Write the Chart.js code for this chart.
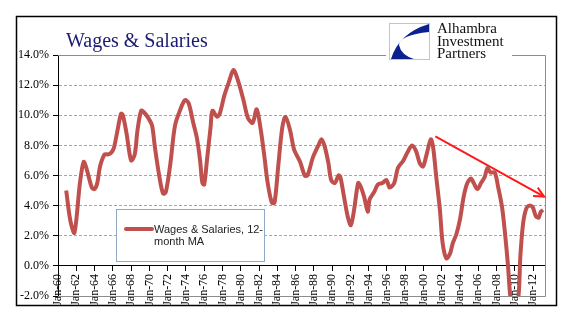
<!DOCTYPE html>
<html>
<head>
<meta charset="utf-8">
<script src="https://cdn.jsdelivr.net/npm/chart.js@4.4.0/dist/chart.umd.min.js"></script>
<style>
  html, body { margin: 0; padding: 0; background: #fff; }
  canvas { display: block; }
</style>
</head>
<body>
<canvas id="wagesChart" width="565" height="324"></canvas>
<script>
// Wages & Salaries, 12-month moving average (% y/y)
const years = [
  1960.9, 1961.35, 1961.8, 1962.4, 1962.8, 1963.1, 1963.7, 1964.0, 1964.3, 1964.6,
  1965.1, 1965.5, 1965.8, 1966.1, 1966.45, 1966.9, 1967.1, 1967.5, 1968.0, 1968.4,
  1968.7, 1969.1, 1969.4, 1969.9, 1970.3, 1970.6, 1971.1, 1971.5, 1971.8, 1972.3,
  1972.8, 1973.4, 1973.9, 1974.3, 1974.8, 1975.2, 1975.55, 1975.8, 1976.0, 1976.3,
  1976.7, 1976.9, 1977.4, 1977.7, 1978.2, 1978.7, 1979.2, 1979.7, 1980.3, 1980.8,
  1981.3, 1981.75, 1982.2, 1982.6, 1982.95, 1983.4, 1983.7, 1984.1, 1984.55, 1984.9,
  1985.4, 1985.85, 1986.5, 1987.0, 1987.3, 1987.9, 1988.5, 1988.85, 1989.2, 1989.6,
  1989.9, 1990.3, 1990.7, 1990.9, 1991.3, 1991.7, 1992.05, 1992.4, 1992.85, 1993.1,
  1993.5, 1993.9, 1994.1, 1994.6, 1995.0, 1995.5, 1995.95, 1996.3, 1996.8, 1997.2,
  1997.8, 1998.3, 1998.75, 1999.2, 1999.6, 1999.95, 2000.3, 2000.8, 2001.05, 2001.4,
  2001.8, 2002.1, 2002.5, 2002.9, 2003.2, 2003.6, 2004.0, 2004.4, 2004.8, 2005.2,
  2005.5, 2005.9, 2006.3, 2006.7, 2007.0, 2007.35, 2007.8, 2008.15, 2008.6, 2008.95,
  2009.25, 2009.5, 2009.9, 2010.4, 2010.6, 2010.9, 2011.25, 2011.6, 2011.95, 2012.3,
  2012.6, 2012.85, 2013.1
];
const wages = [
  5.0, 3.0, 2.2, 5.5, 6.9, 6.5, 5.2, 5.1, 5.5, 6.6,
  7.4, 7.4, 7.5, 7.8, 8.8, 10.1, 10.0, 8.8, 7.0, 7.4,
  9.0, 10.3, 10.2, 9.8, 9.3, 7.9, 5.9, 4.8, 4.9, 6.8,
  9.3, 10.4, 11.0, 10.8, 9.5, 8.5, 7.0, 5.5, 5.4, 7.0,
  9.2, 10.3, 9.9, 10.1, 11.3, 12.2, 13.0, 12.3, 11.0, 9.8,
  9.5, 10.4, 9.0, 7.2, 5.5, 4.2, 4.2, 6.6, 9.2, 9.9,
  9.0, 7.7, 6.9, 6.0, 6.0, 7.2, 8.0, 8.4, 7.9, 6.8,
  5.7, 5.5, 6.0, 5.9, 4.6, 3.3, 2.7, 3.7, 5.5, 5.3,
  4.6, 3.6, 4.4, 4.9, 5.4, 5.5, 5.7, 5.2, 5.5, 6.5,
  7.0, 7.6, 8.0, 7.6, 6.8, 6.6, 7.3, 8.4, 7.9, 5.9,
  3.7, 1.5, 0.5, 0.8, 1.5, 2.1, 3.1, 4.6, 5.5, 5.8,
  5.5, 5.1, 5.5, 5.9, 6.5, 6.2, 6.2, 5.3, 3.9, 2.0,
  0.0, -2.0, -3.5, -2.0, 0.6, 2.8, 3.8, 4.0, 3.9, 3.3,
  3.2, 3.6, 3.7
];

// red trend arrow
const trendYears = [2001.3, 2013.2];
const trendValues = [8.6, 4.6];

// axes
const xTickYears = [1960, 1962, 1964, 1966, 1968, 1970, 1972, 1974, 1976, 1978, 1980, 1982, 1984,
  1986, 1988, 1990, 1992, 1994, 1996, 1998, 2000, 2002, 2004, 2006, 2008, 2010, 2012];
const yTickValues = [-2, 0, 2, 4, 6, 8, 10, 12, 14];

const seriesName = "Wages & Salaries, 12-month MA";
const legendLines = ["Wages & Salaries, 12-", "month MA"];
const titleText = "Wages & Salaries";
const logoLines = ["Alhambra", "Investment", "Partners"];

const lineColor = "#c0504d";

const decorations = {
  id: "decorations",
  beforeDraw(chart) {
    const ctx = chart.ctx;
    ctx.save();
    ctx.fillStyle = "#fff";
    ctx.fillRect(0, 0, chart.width, chart.height);
    ctx.restore();
  },
  beforeDatasetsDraw(chart) {
    const ctx = chart.ctx;
    const a = chart.chartArea;
    ctx.save();
    ctx.strokeStyle = "#8c8c8c";
    ctx.lineWidth = 1;
    ctx.beginPath();
    ctx.moveTo(a.left, Math.round(a.top) + 0.5);
    ctx.lineTo(Math.round(a.right) + 0.5, Math.round(a.top) + 0.5);
    ctx.lineTo(Math.round(a.right) + 0.5, Math.round(a.bottom) + 0.5);
    ctx.lineTo(a.left, Math.round(a.bottom) + 0.5);
    ctx.stroke();
    ctx.restore();
  },
  afterDraw(chart) {
    const ctx = chart.ctx;
    ctx.save();

    // outer frame
    ctx.strokeStyle = "#000";
    ctx.lineWidth = 1.5;
    ctx.strokeRect(16.5, 16.5, 540, 289);

    // title
    ctx.fillStyle = "#1b1b72";
    ctx.font = "20px 'Liberation Serif'";
    ctx.textBaseline = "alphabetic";
    ctx.textAlign = "left";
    ctx.fillText(titleText, 66, 47);

    // logo
    ctx.fillStyle = "#fff";
    ctx.fillRect(386, 20, 126, 42);
    ctx.strokeStyle = "#c4c4c4";
    ctx.lineWidth = 1;
    ctx.strokeRect(389.5, 23.5, 40, 36);
    ctx.fillStyle = "#0b2190";
    ctx.beginPath();
    ctx.moveTo(429, 24);
    ctx.lineTo(429, 32);
    ctx.quadraticCurveTo(400, 35, 399, 45);
    ctx.quadraticCurveTo(401, 55, 414, 59);
    ctx.lineTo(391, 59);
    ctx.quadraticCurveTo(399, 33, 429, 24);
    ctx.closePath();
    ctx.fill();
    ctx.fillStyle = "#111";
    ctx.font = "15px 'Liberation Serif'";
    logoLines.forEach((t, i) => ctx.fillText(t, 437, 33 + i * 12.5));

    // legend box
    ctx.fillStyle = "#fff";
    ctx.fillRect(116, 209, 148, 52);
    ctx.strokeStyle = "#8fa8c6";
    ctx.lineWidth = 1;
    ctx.strokeRect(116.5, 209.5, 148, 52);
    ctx.strokeStyle = lineColor;
    ctx.lineWidth = 4;
    ctx.lineCap = "round";
    ctx.beginPath();
    ctx.moveTo(126, 229);
    ctx.lineTo(152, 229);
    ctx.stroke();
    ctx.fillStyle = "#222";
    ctx.font = "11px 'Liberation Sans'";
    legendLines.forEach((t, i) => ctx.fillText(t, 154, 233 + i * 12));

    // arrow head on trend line
    const pts = chart.getDatasetMeta(1).data;
    if (pts.length > 1) {
      const p0 = pts[0], p1 = pts[pts.length - 1];
      const ang = Math.atan2(p1.y - p0.y, p1.x - p0.x);
      ctx.strokeStyle = "#ff1a1a";
      ctx.lineWidth = 2;
      ctx.lineCap = "butt";
      ctx.beginPath();
      ctx.moveTo(p1.x - 11 * Math.cos(ang - 0.45), p1.y - 11 * Math.sin(ang - 0.45));
      ctx.lineTo(p1.x, p1.y);
      ctx.lineTo(p1.x - 11 * Math.cos(ang + 0.45), p1.y - 11 * Math.sin(ang + 0.45));
      ctx.stroke();
    }
    ctx.restore();
  }
};

const ctx = document.getElementById("wagesChart").getContext("2d");

new Chart(ctx, {
  type: "line",
  data: {
    datasets: [
      {
        label: seriesName,
        data: years.map((x, i) => ({ x: x, y: wages[i] })),
        borderColor: lineColor,
        borderWidth: 4,
        pointRadius: 0,
        tension: 0.3,
        fill: false
      },
      {
        label: "trend",
        data: trendYears.map((x, i) => ({ x: x, y: trendValues[i] })),
        borderColor: "#ff1a1a",
        borderWidth: 2,
        pointRadius: 0,
        tension: 0,
        fill: false,
        clip: false
      }
    ]
  },
  options: {
    responsive: false,
    animation: false,
    events: [],
    layout: {
      padding: { top: 55, right: 20, bottom: 28, left: 16 }
    },
    plugins: {
      legend: { display: false },
      title: { display: false },
      tooltip: { enabled: false }
    },
    scales: {
      x: {
        type: "linear",
        position: { y: 0 },
        min: 1960,
        max: 2013.3,
        afterBuildTicks: function (scale) {
          scale.ticks = xTickYears.map(v => ({ value: v }));
        },
        ticks: {
          autoSkip: false,
          minRotation: 90,
          maxRotation: 90,
          padding: 3,
          color: "#000",
          font: { family: "'Liberation Serif'", size: 12 },
          callback: v => "Jan-" + String(Math.round(v) % 100).padStart(2, "0")
        },
        grid: {
          drawOnChartArea: false,
          drawTicks: true,
          tickLength: 5,
          tickColor: "#000"
        },
        border: { display: true, color: "#000", width: 1 }
      },
      y: {
        min: -2,
        max: 14,
        afterFit: function (scale) { scale.width = 42; },
        afterBuildTicks: function (scale) {
          scale.ticks = yTickValues.map(v => ({ value: v }));
        },
        ticks: {
          padding: 4,
          color: "#000",
          font: { family: "'Liberation Serif'", size: 12 },
          callback: v => v.toFixed(1) + "%"
        },
        grid: {
          color: "#a6a6a6",
          lineWidth: 1,
          drawTicks: true,
          tickLength: 5,
          tickColor: "#000"
        },
        border: { display: true, color: "#000", width: 1, dash: [3, 2] }
      }
    }
  },
  plugins: [decorations]
});
</script>
</body>
</html>
